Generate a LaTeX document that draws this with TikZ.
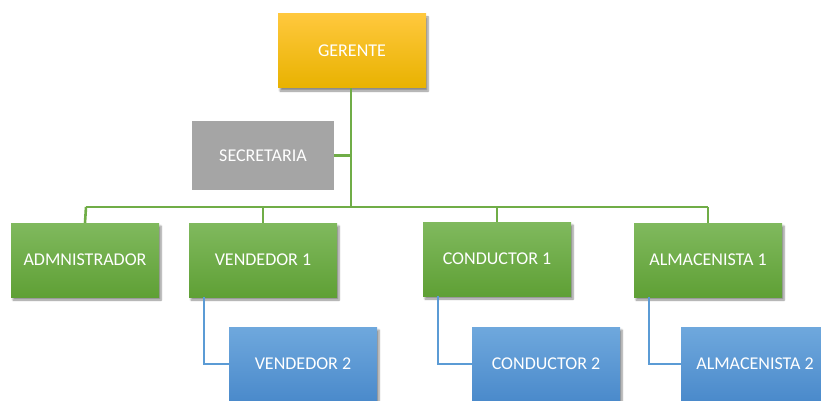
\documentclass[tikz,border=0pt]{standalone}
\usepackage{fontspec}
\setmainfont{Carlito}
\usetikzlibrary{shadows.blur,calc}
\definecolor{goldtop}{HTML}{FFC83D}
\definecolor{goldbot}{HTML}{E8B200}
\definecolor{greentop}{HTML}{80B95E}
\definecolor{greenbot}{HTML}{5FA035}
\definecolor{bluetop}{HTML}{6FA8DD}
\definecolor{bluebot}{HTML}{4A8ACB}
\definecolor{grayfill}{HTML}{A5A5A5}
\definecolor{greenline}{HTML}{70AD47}
\definecolor{blueline}{HTML}{5B9BD5}
\tikzset{
  box/.style={rectangle, minimum width=148pt, minimum height=74pt, inner sep=0pt,
    text=white, font=\fontsize{18}{20}\selectfont,
    blur shadow={shadow xshift=2pt, shadow yshift=-3pt, shadow blur steps=6, shadow opacity=45}},
  goldbox/.style={box, top color=goldtop, bottom color=goldbot},
  greenbox/.style={box, top color=greentop, bottom color=greenbot},
  bluebox/.style={box, top color=bluetop, bottom color=bluebot},
  graybox/.style={rectangle, minimum width=142pt, minimum height=69pt, inner sep=0pt,
    fill=grayfill, text=white, font=\fontsize{18}{20}\selectfont},
  gline/.style={draw=greenline, line width=2.6pt},
  bline/.style={draw=blueline, line width=2.4pt},
}
\begin{document}
\begin{tikzpicture}[x=1pt, y=-1pt]
  \useasboundingbox (0,0) rectangle (821,401);
  \clip (0,0) rectangle (821,401);

  % bus coordinates of the main branch
  \coordinate (bus) at (351,207);
  \coordinate (busL) at (86,207);
  \coordinate (busR) at (708,207);

  % boxes
  \node[goldbox]  (ger) at (352,51)  {GERENTE};
  \node[graybox]  (sec) at (263,155.5) {SECRETARIA};
  \node[greenbox] (adm) at (85,260)  {ADMNISTRADOR};
  \node[greenbox] (ve1) at (263,260) {VENDEDOR 1};
  \node[greenbox] (co1) at (497,259) {CONDUCTOR 1};
  \node[greenbox] (al1) at (708,260) {ALMACENISTA 1};
  \node[bluebox]  (ve2) at (303,364) {VENDEDOR 2};
  \node[bluebox]  (co2) at (546,364) {CONDUCTOR 2};
  \node[bluebox]  (al2) at (755,364) {ALMACENISTA 2};

  % green hierarchy lines
  \draw[gline] (ger.south -| bus) -- (bus);
  \draw[gline] (sec.east) -- (sec.east -| bus);
  \draw[gline] (busL) -- (busR);
  \draw[gline] (busL) -- (adm.north);
  \draw[gline] (ve1.north |- bus) -- (ve1.north);
  \draw[gline] (co1.north |- bus) -- (co1.north);
  \draw[gline] (busR) -- (al1.north);

  % blue sub-lines
  \draw[bline] ($(ve1.south west)+(15,0)$) |- (ve2.west);
  \draw[bline] ($(co1.south west)+(15,0)$) |- (co2.west);
  \draw[bline] ($(al1.south west)+(15,0)$) |- (al2.west);
\end{tikzpicture}
\end{document}
